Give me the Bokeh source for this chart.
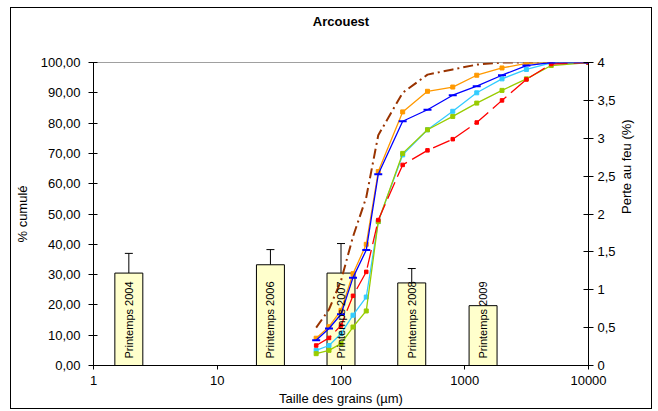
import math

from bokeh.plotting import figure
from bokeh.models import (Range1d, LinearAxis, FixedTicker, CustomJSTickFormatter,
                          ColumnDataSource, Whisker, TeeHead, Title)
from bokeh.core.properties import value
from bokeh.embed import file_html
from bokeh.resources import INLINE

# Sieve openings (µm)
taille = [63, 80, 100, 125, 160, 200, 315, 500, 800, 1250, 2000, 3150, 5000, 10000]

# Cumulative passing (%) per sample
courbe_brune = [12.5, 18.5, 28.0, 42.5, 55.5, 76.0, 90.0, 96.0, 97.7, 99.3, 100.0, 100.0, 100.0, 100.0]
courbe_orange = [9.0, 12.8, 18.2, 30.3, 40.0, 64.0, 83.7, 90.5, 91.9, 95.8, 98.2, 99.7, 100.0, 100.0]
courbe_bleue = [8.3, 12.2, 16.9, 29.0, 38.1, 63.1, 80.6, 84.4, 89.2, 92.2, 95.8, 99.0, 100.0, 100.0]
courbe_cyan = [5.0, 6.6, 10.5, 16.6, 22.6, 47.5, 69.5, 77.8, 83.9, 90.0, 94.6, 97.7, 99.9, 100.0]
courbe_verte = [3.9, 5.0, 7.2, 12.7, 18.0, 47.5, 70.0, 77.8, 82.2, 86.6, 90.8, 94.6, 99.0, 100.0]
courbe_rouge = [6.6, 9.1, 13.2, 23.0, 30.9, 48.0, 66.2, 71.0, 74.7, 80.2, 87.5, 94.4, 99.5, 100.0]

# Loss on ignition (%) per campaign
campagnes = ["Printemps 2004", "Printemps 2006", "Printemps 2007", "Printemps 2008", "Printemps 2009"]
position_campagne = [1.93, 26.9, 100.0, 373.0, 1406.0]
perte_au_feu = [1.22, 1.33, 1.22, 1.09, 0.79]
perte_au_feu_max = [1.48, 1.53, 1.61, 1.28, 0.79]

FONT = "Liberation Sans"
DEMI_LARGEUR = 0.113  # half bar width, in decades

p = figure(width=642, height=402, x_axis_type="log", title=None,
           x_range=Range1d(1, 10000), y_range=Range1d(0, 100),
           output_backend="svg", toolbar_location=None,
           min_border_left=77, min_border_right=65,
           min_border_top=54, min_border_bottom=45,
           margin=(7, 0, 0, 10))
p.styles = {"border": "1px solid black"}
p.background_fill_color = "white"
p.border_fill_color = "white"
p.outline_line_color = "#a0a0a0"
p.xgrid.visible = False
p.ygrid.visible = False

# Spacer panel between the frame and the chart title, then the title itself
p.add_layout(Title(text=" ", text_font_size="1px", standoff=31), "above")
p.add_layout(Title(text="Arcouest", text_font=FONT, text_font_size="13px",
                   text_font_style="bold", text_color="black",
                   align="center", offset=-8, standoff=0), "above")

p.extra_y_ranges = {"perte": Range1d(0, 4)}

# x axis
xa = p.xaxis[0]
xa.ticker = FixedTicker(ticks=[1, 10, 100, 1000, 10000], minor_ticks=[])
xa.formatter = CustomJSTickFormatter(code="return Math.round(tick).toString();")
xa.axis_label = "Taille des grains (µm)"

# left axis
ya = p.yaxis[0]
ya.ticker = FixedTicker(ticks=list(range(0, 101, 10)), minor_ticks=[])
ya.formatter = CustomJSTickFormatter(code="return tick.toFixed(2).replace('.', ',');")
ya.axis_label = "% cumulé"

# right axis
ra = LinearAxis(y_range_name="perte", axis_label="Perte au feu (%)",
                ticker=FixedTicker(ticks=[0, 0.5, 1, 1.5, 2, 2.5, 3, 3.5, 4], minor_ticks=[]),
                formatter=CustomJSTickFormatter(code="return String(tick).replace('.', ',');"))
ra.axis_label_orientation = math.pi / 2
p.add_layout(ra, "right")

for ax in (xa, ya, ra):
    ax.axis_line_color = "black"
    ax.major_tick_line_color = "black"
    ax.minor_tick_line_color = None
    ax.major_label_text_font = FONT
    ax.major_label_text_font_size = "13px"
    ax.major_label_text_color = "black"
    ax.axis_label_text_font = FONT
    ax.axis_label_text_font_size = "13px"
    ax.axis_label_text_font_style = "normal"
    ax.axis_label_text_color = "black"

xa.major_tick_in = 0
xa.major_tick_out = 4
xa.major_label_standoff = 6
xa.axis_label_standoff = 3
ya.major_tick_in = 4
ya.major_tick_out = 5
ya.major_label_standoff = 8
ya.axis_label_standoff = 8
ra.major_tick_in = 5
ra.major_tick_out = 5
ra.major_label_standoff = 4
ra.axis_label_standoff = 8

# Loss-on-ignition bars
bars = ColumnDataSource(dict(
    left=[10 ** (math.log10(c) - DEMI_LARGEUR) for c in position_campagne],
    right=[10 ** (math.log10(c) + DEMI_LARGEUR) for c in position_campagne],
    top=perte_au_feu,
    x=position_campagne,
    label=campagnes,
))
p.quad(left="left", right="right", bottom=0, top="top", source=bars,
       fill_color="#FFFFCC", line_color="black", line_width=1, y_range_name="perte")

err_idx = [i for i in range(len(campagnes)) if perte_au_feu_max[i] > perte_au_feu[i]]
err = ColumnDataSource(dict(
    x=[position_campagne[i] for i in err_idx],
    lower=[perte_au_feu[i] for i in err_idx],
    upper=[perte_au_feu_max[i] for i in err_idx],
))
p.add_layout(Whisker(base="x", lower="lower", upper="upper", source=err,
                     dimension="height", y_range_name="perte",
                     line_color="black", line_width=1, lower_head=None,
                     upper_head=TeeHead(size=8, line_color="black", line_width=1)))

# Grain-size curves
p.line(taille, courbe_brune, line_color="#993300", line_width=2, line_dash="10 4 2 4")
p.line(taille, courbe_orange, line_color="#FF9900", line_width=1.3)
p.scatter(taille, courbe_orange, marker="square", size=4, color="#FF9900")
p.line(taille, courbe_cyan, line_color="#33CCFF", line_width=1.3)
p.scatter(taille, courbe_cyan, marker="square", size=4, color="#33CCFF")
p.line(taille, courbe_verte, line_color="#99CC00", line_width=1.3)
p.scatter(taille, courbe_verte, marker="square", size=4, color="#99CC00")
p.line(taille, courbe_rouge, line_color="#FF0000", line_width=1.3, line_dash="18 6")
p.scatter(taille, courbe_rouge, marker="square", size=3.5, color="#FF0000")
p.line(taille, courbe_bleue, line_color="#0000FF", line_width=1.3)
p.scatter(taille, courbe_bleue, marker="dash", size=8, line_width=2, color="#0000FF")

# Campaign labels inside the bars
p.text(x="x", y=0, text="label", source=bars, y_range_name="perte",
       angle=math.pi / 2, text_align="left", text_baseline="middle",
       y_offset=-7, text_font=value(FONT), text_font_size="11px", text_color="black")

open("out.html", "w").write(file_html(p, INLINE))
